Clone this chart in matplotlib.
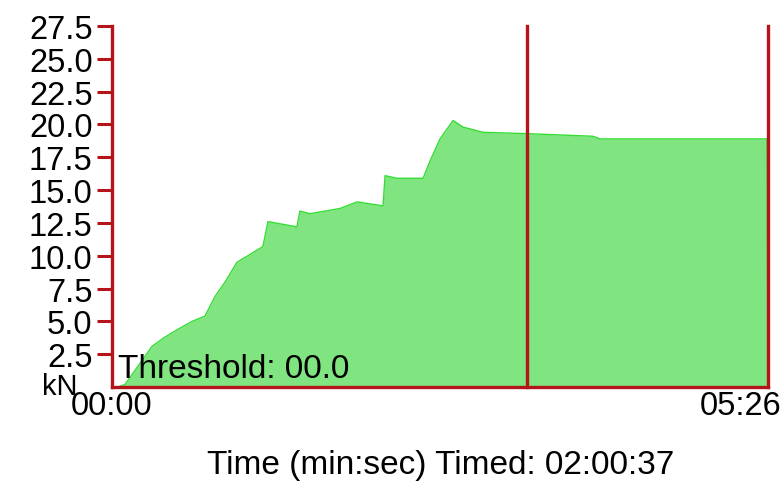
import matplotlib.pyplot as plt

plt.rcParams['font.family'] = ['Liberation Sans', 'DejaVu Sans']

# force trace (seconds, kN)
time_s = [0, 3.0, 6.5, 19.9, 26.3, 32.8, 39.8, 46.2, 51.2, 56.2, 62.1, 68.6, 75.0,
          77.5, 91.9, 93.4, 98.4, 113.3, 121.8, 134.7, 135.7, 141.6, 154.6, 158.0,
          163.0, 169.5, 174.4, 184.4, 206.3, 239.0, 242.5, 325.5, 326.0]
force_kn = [0, 0, 0.2, 3.1, 3.8, 4.4, 5.0, 5.4, 6.9, 8.0, 9.5, 10.1, 10.7,
            12.6, 12.2, 13.4, 13.2, 13.6, 14.1, 13.8, 16.1, 15.9, 15.9, 17.2,
            18.9, 20.3, 19.8, 19.4, 19.3, 19.1, 18.9, 18.9, 0]
markers_s = [206, 326]
yticks = [2.5, 5.0, 7.5, 10.0, 12.5, 15.0, 17.5, 20.0, 22.5, 25.0, 27.5]

red = '#b3151b'

fig = plt.figure(figsize=(7.82, 4.89), dpi=100)
ax = fig.add_axes([112/782, 1 - 388/489, 656/782, 361/489])

ax.fill_between(time_s, force_kn, color='#80e480', lw=0)
ax.plot(time_s, force_kn, color='#33dd33', lw=1)

for m in markers_s:
    ax.axvline(m, color=red, lw=2.4, clip_on=False, zorder=5)

ax.set_xlim(0, 326)
ax.set_ylim(0, 27.5)

for s in ['top', 'right']:
    ax.spines[s].set_visible(False)
for s in ['left', 'bottom']:
    ax.spines[s].set_color(red)
    ax.spines[s].set_linewidth(2.4)
    ax.spines[s].set_zorder(6)

ax.set_yticks(yticks)
ax.set_yticklabels([f'{v:.1f}' for v in yticks])
ax.tick_params(axis='y', colors=red, labelcolor='black', length=11, width=2.2,
               pad=3, labelsize=23.5)
ax.set_xticks([])

fig.text(60/782, 1 - 387/489, 'kN', fontsize=21, ha='center', va='center')
fig.text(112/782, 1 - 407/489, '00:00', fontsize=23.5, ha='center', va='center')
fig.text(781/782, 1 - 407/489, '05:26', fontsize=23.5, ha='right', va='center')
fig.text(441/782, 1 - 466/489, 'Time (min:sec) Timed: 02:00:37', fontsize=24,
         ha='center', va='center')
ax.text(3, 0.25, 'Threshold: 00.0', fontsize=24, ha='left', va='bottom', zorder=7)

fig.savefig('out.png', dpi=100)
